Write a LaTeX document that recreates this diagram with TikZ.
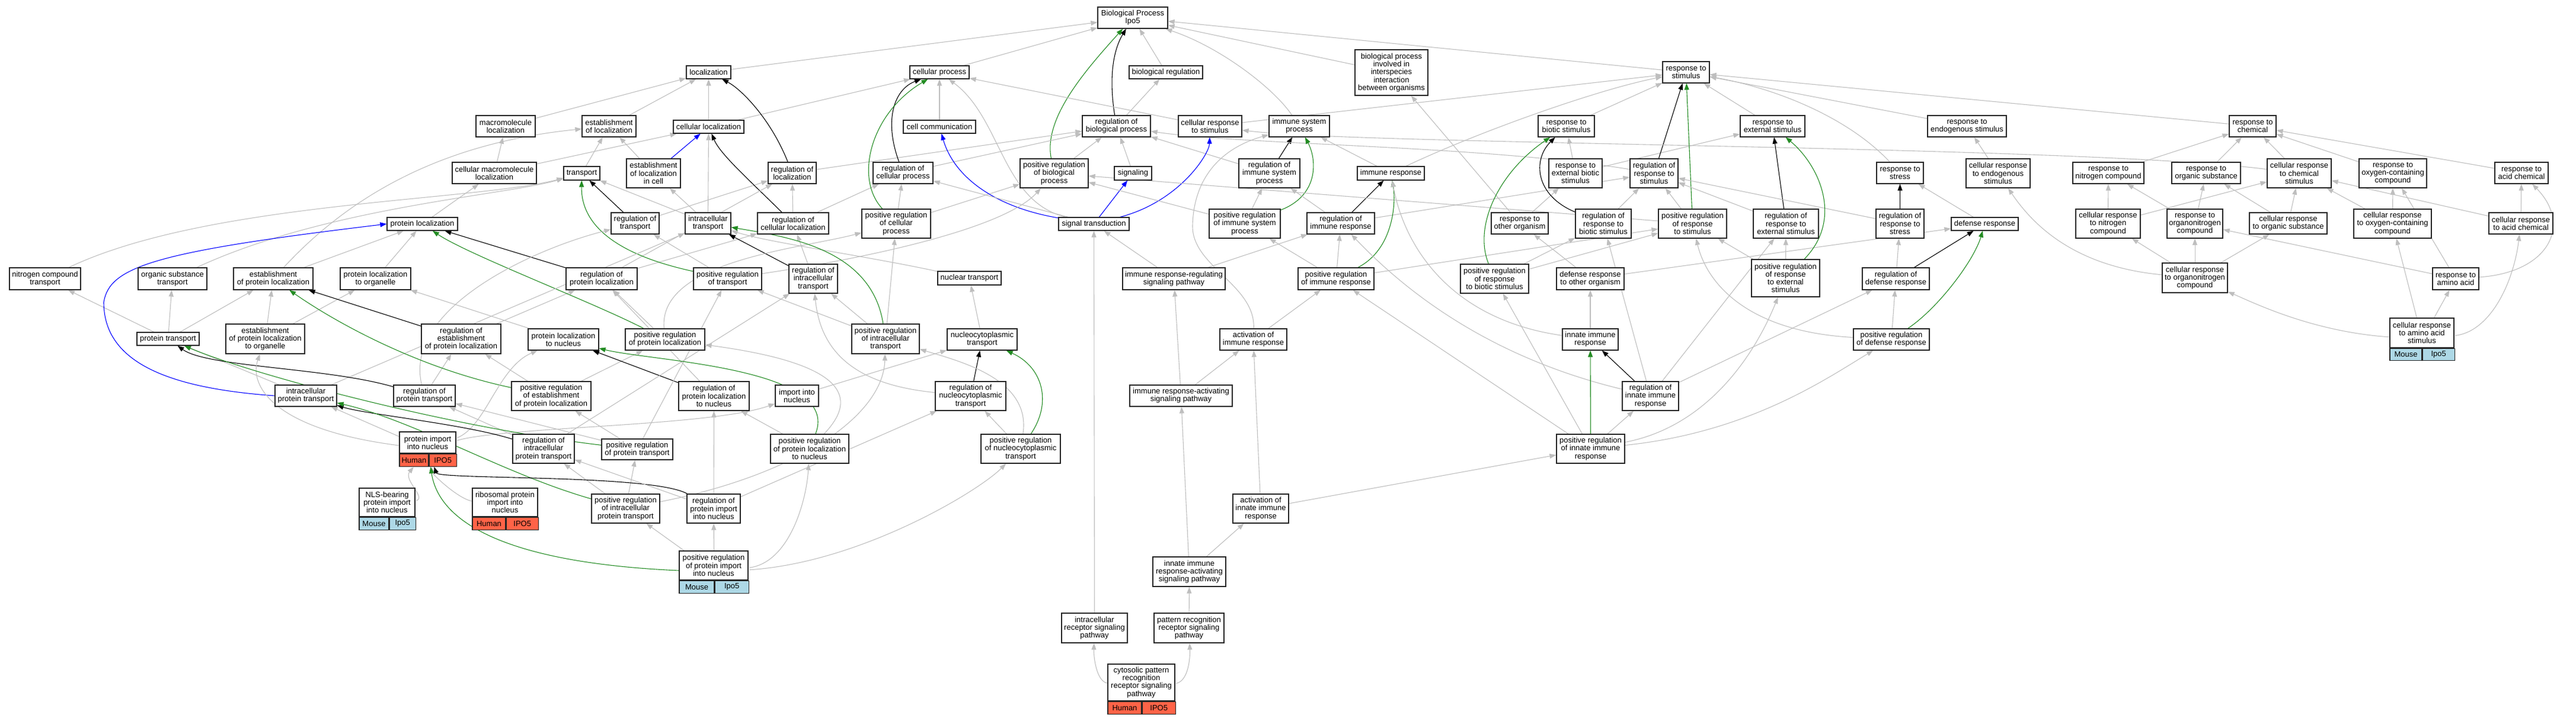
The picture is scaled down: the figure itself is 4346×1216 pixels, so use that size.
\documentclass[tikz,border=0pt]{standalone}
\usepackage{fontspec}
\setmainfont{Liberation Sans}
\usetikzlibrary{arrows.meta}
\usetikzlibrary{fit}
\definecolor{edgegray}{HTML}{BEBEBE}
\definecolor{fgreen}{HTML}{228B22}
\definecolor{tomato}{HTML}{FF6347}
\definecolor{lblue}{HTML}{ADD8E6}
\pgfdeclarelayer{edges}
\pgfsetlayers{edges,main}
\tikzset{
  term/.style={draw=black!85, line width=1.2pt, fill=white, align=center, inner xsep=3pt, inner ysep=2pt, font=\fontsize{13}{13.2}\selectfont},
  sz/.style 2 args={minimum width=#1pt, minimum height=#2pt},
  human/.style={term, fill=tomato},
  mouse/.style={term, fill=lblue},
  isa/.style={draw=edgegray, line width=1.1pt, -{Triangle[length=11pt,width=8pt]}},
  reg/.style={isa, draw=black},
  posreg/.style={isa, draw=fgreen},
  partof/.style={isa, draw=blue},
}

\begin{document}
\begin{tikzpicture}[x=1pt, y=-1pt]
    \useasboundingbox (0,0) rectangle (4346,1216);

    % rank 0 and 1
    \node[term, sz={118}{36}] (bp) at (1911,30) {Biological Process\\Ipo5};
    \node[term, sz={75}{22}] (loc) at (1195.5,122) {localization};
    \node[term, sz={100}{22}] (cp) at (1585,122) {cellular process};
    \node[term, sz={124}{22}] (breg) at (1967,122) {biological regulation};
    \node[term, sz={123}{77}] (bpint) at (2347.5,122.5) {biological process\\involved in\\interspecies\\interaction\\between organisms};
    \node[term, sz={79}{36}] (rstim) at (2844.5,122) {response to\\stimulus};

    % rank 2
    \node[term, sz={100}{36}] (macloc) at (853,213) {macromolecule\\localization};
    \node[term, sz={91}{36}] (estloc) at (1027.5,213) {establishment\\of localization};
    \node[term, sz={119}{22}] (cellloc) at (1195.5,214) {cellular localization};
    \node[term, sz={122}{22}] (cellcomm) at (1585,214) {cell communication};
    \node[term, sz={115}{36}] (regbp) at (1883.5,213) {regulation of\\biological process};
    \node[term, sz={107}{36}] (crstim) at (2041.5,213) {cellular response\\to stimulus};
    \node[term, sz={102}{36}] (imsys) at (2192,213) {immune system\\process};
    \node[term, sz={95}{36}] (rbiotic) at (2642.5,213) {response to\\biotic stimulus};
    \node[term, sz={109}{36}] (rext) at (2990.5,213) {response to\\external stimulus};
    \node[term, sz={133}{36}] (rendo) at (3318.5,213) {response to\\endogenous stimulus};
    \node[term, sz={79}{36}] (rchem) at (3800.5,213) {response to\\chemical};

    % rank 3
    \node[term, sz={142}{36}] (cmacloc) at (834,292) {cellular macromolecule\\localization};
    \node[term, sz={61}{23}] (transport) at (981.5,292.5) {transport};
    \node[term, sz={91}{49}] (estloccell) at (1102.5,292.5) {establishment\\of localization\\in cell};
    \node[term, sz={81}{36}] (regloc) at (1336.5,292) {regulation of\\localization};
    \node[term, sz={101}{36}] (regcp) at (1523.5,292) {regulation of\\cellular process};
    \node[term, sz={115}{49}] (posregbp) at (1778.5,292.5) {positive regulation\\of biological\\process};
    \node[term, sz={63}{23}] (signaling) at (1911.5,292.5) {signaling};
    \node[term, sz={103}{49}] (regimsys) at (2141.5,292.5) {regulation of\\immune system\\process};
    \node[term, sz={113}{23}] (imresp) at (2346.5,292.5) {immune response};
    \node[term, sz={90}{49}] (rextbiotic) at (2658,292.5) {response to\\external biotic\\stimulus};
    \node[term, sz={81}{49}] (regrstim) at (2790.5,292.5) {regulation of\\response to\\stimulus};
    \node[term, sz={79}{36}] (rstress) at (3205.5,292) {response to\\stress};
    \node[term, sz={108}{49}] (crendo) at (3371,292.5) {cellular response\\to endogenous\\stimulus};
    \node[term, sz={120}{36}] (rnitro) at (3557,292) {response to\\nitrogen compound};
    \node[term, sz={116}{36}] (rorgsub) at (3722,292) {response to\\organic substance};
    \node[term, sz={108}{49}] (crchem) at (3879,292.5) {cellular response\\to chemical\\stimulus};
    \node[term, sz={114}{49}] (roxy) at (4037,292.5) {response to\\oxygen-containing\\compound};
    \node[term, sz={90}{36}] (racid) at (4254,292) {response to\\acid chemical};

    % rank 4
    \node[term, sz={119}{22}] (protloc) at (712.5,378) {protein localization};
    \node[term, sz={81}{36}] (regtransport) at (1071.5,377) {regulation of\\transport};
    \node[term, sz={77}{36}] (intratrans) at (1194.5,377) {intracellular\\transport};
    \node[term, sz={120}{36}] (regcellloc) at (1338,377) {regulation of\\cellular localization};
    \node[term, sz={116}{49}] (posregcp) at (1512,377.5) {positive regulation\\of cellular\\process};
    \node[term, sz={119}{22}] (sigtrans) at (1845.5,378) {signal transduction};
    \node[term, sz={120}{49}] (posregimsys) at (2100,377.5) {positive regulation\\of immune system\\process};
    \node[term, sz={114}{36}] (regimresp) at (2262,377) {regulation of\\immune response};
    \node[term, sz={96}{36}] (rother) at (2564,377) {response to\\other organism};
    \node[term, sz={94}{49}] (regrbiotic) at (2705,377.5) {regulation of\\response to\\biotic stimulus};
    \node[term, sz={115}{49}] (posregrstim) at (2855.5,377.5) {positive regulation\\of response\\to stimulus};
    \node[term, sz={110}{49}] (regrext) at (3013,377.5) {regulation of\\response to\\external stimulus};
    \node[term, sz={81}{49}] (regrstress) at (3205.5,377.5) {regulation of\\response to\\stress};
    \node[term, sz={113}{22}] (defresp) at (3348.5,378) {defense response};
    \node[term, sz={109}{49}] (crnitro) at (3556.5,377.5) {cellular response\\to nitrogen\\compound};
    \node[term, sz={94}{49}] (rorgnitro) at (3703,377.5) {response to\\organonitrogen\\compound};
    \node[term, sz={131}{36}] (crorgsub) at (3860.5,377) {cellular response\\to organic substance};
    \node[term, sz={131}{49}] (croxy) at (4036.5,377.5) {cellular response\\to oxygen-containing\\compound};
    \node[term, sz={108}{36}] (cracid) at (4253,377) {cellular response\\to acid chemical};

    % rank 5
    \node[term, sz={120}{37}] (nitrotrans) at (76,470.5) {nitrogen compound\\transport};
    \node[term, sz={116}{37}] (orgsubtrans) at (291,470.5) {organic substance\\transport};
    \node[term, sz={134}{37}] (estprotloc) at (461,470.5) {establishment\\of protein localization};
    \node[term, sz={119}{37}] (protlocorg) at (633.5,470.5) {protein localization\\to organelle};
    \node[term, sz={120}{37}] (regprotloc) at (1015,470.5) {regulation of\\protein localization};
    \node[term, sz={115}{37}] (posregtransport) at (1227.5,470.5) {positive regulation\\of transport};
    \node[term, sz={82}{49}] (regintratrans) at (1372,470.5) {regulation of\\intracellular\\transport};
    \node[term, sz={107}{23}] (nuctrans) at (1635.5,469.5) {nuclear transport};
    \node[term, sz={173}{37}] (imrrsp) at (1980.5,470.5) {immune response-regulating\\signaling pathway};
    \node[term, sz={128}{37}] (posregimresp) at (2254,470.5) {positive regulation\\of immune response};
    \node[term, sz={115}{49}] (posregrbiotic) at (2521.5,470.5) {positive regulation\\of response\\to biotic stimulus};
    \node[term, sz={114}{37}] (defother) at (2683,470.5) {defense response\\to other organism};
    \node[term, sz={115}{63}] (posregrext) at (3012.5,469.5) {positive regulation\\of response\\to external\\stimulus};
    \node[term, sz={113}{37}] (regdef) at (3198.5,470.5) {regulation of\\defense response};
    \node[term, sz={110}{50}] (crorgnitro) at (3703,469) {cellular response\\to organonitrogen\\compound};
    \node[term, sz={78}{37}] (raa) at (4143,470.5) {response to\\amino acid};

    % rank 6
    \node[term, sz={105}{22}] (prottrans) at (283.5,572) {protein transport};
    \node[term, sz={133}{50}] (estprotlocorg) at (447.5,572) {establishment\\of protein localization\\to organelle};
    \node[term, sz={134}{50}] (regestprotloc) at (778,572) {regulation of\\establishment\\of protein localization};
    \node[term, sz={119}{36}] (protlocnuc) at (950.5,573) {protein localization\\to nucleus};
    \node[term, sz={134}{36}] (posregprotloc) at (1122,573) {positive regulation\\of protein localization};
    \node[term, sz={114}{50}] (posregintratrans) at (1494,572) {positive regulation\\of intracellular\\transport};
    \node[term, sz={118}{36}] (nctrans) at (1657,573) {nucleocytoplasmic\\transport};
    \node[term, sz={113}{36}] (actimresp) at (2114.5,573) {activation of\\immune response};
    \node[term, sz={94}{36}] (innate) at (2683,573) {innate immune\\response};
    \node[term, sz={128}{36}] (posregdef) at (3191,573) {positive regulation\\of defense response};
    \node[term, sz={108}{50}] (craa) at (4086,562) {cellular response\\to amino acid\\stimulus};
    \node[mouse, sz={54}{20}, anchor=north west] (craaA) at (craa.south west) {Mouse};
    \node[mouse, sz={54}{20}, anchor=north west] (craaB) at (craaA.north east) {Ipo5};
    \node[fit=(craa)(craaB), inner sep=0pt] (craaF) {};

    % rank 7
    \node[term, sz={104}{36}] (intraprottrans) at (516,668) {intracellular\\protein transport};
    \node[term, sz={104}{36}] (regprottrans) at (716,668) {regulation of\\protein transport};
    \node[term, sz={134}{49}] (posregestprotloc) at (930,668.5) {positive regulation\\of establishment\\of protein localization};
    \node[term, sz={119}{49}] (regprotlocnuc) at (1204.5,668.5) {regulation of\\protein localization\\to nucleus};
    \node[term, sz={73}{36}] (importnuc) at (1344.5,668) {import into\\nucleus};
    \node[term, sz={119}{49}] (regnctrans) at (1637.5,668.5) {regulation of\\nucleocytoplasmic\\transport};
    \node[term, sz={173}{36}] (imrasp) at (1992.5,668) {immune response-activating\\signaling pathway};
    \node[term, sz={95}{49}] (reginnate) at (2784.5,668.5) {regulation of\\innate immune\\response};

    % rank 8
    \node[term, sz={95}{36}] (protimport) at (721.5,747) {protein import\\into nucleus};
    \node[human, sz={49}{21}, anchor=north west] (protimportA) at (protimport.south west) {Human};
    \node[human, sz={46}{21}, anchor=north west] (protimportB) at (protimportA.north east) {IPO5};
    \node[fit=(protimport)(protimportB), inner sep=0pt] (protimportF) {};
    \node[term, sz={104}{49}] (regintraprottrans) at (917,757.5) {regulation of\\intracellular\\protein transport};
    \node[term, sz={120}{35}] (posregprottrans) at (1075,758.5) {positive regulation\\of protein transport};
    \node[term, sz={132}{49}] (posregprotlocnuc) at (1366,757.5) {positive regulation\\of protein localization\\to nucleus};
    \node[term, sz={134}{49}] (posregnctrans) at (1722,757.5) {positive regulation\\of nucleocytoplasmic\\transport};
    \node[term, sz={115}{49}] (posreginnate) at (2683.5,757.5) {positive regulation\\of innate immune\\response};

    % rank 9
    \node[term, sz={94}{48}] (nls) at (653,848) {NLS-bearing\\protein import\\into nucleus};
    \node[mouse, sz={50}{21}, anchor=north west] (nlsA) at (nls.south west) {Mouse};
    \node[mouse, sz={44}{21}, anchor=north west] (nlsB) at (nlsA.north east) {Ipo5};
    \node[fit=(nls)(nlsB), inner sep=0pt] (nlsF) {};
    \node[term, sz={110}{48}] (ribo) at (852,848) {ribosomal protein\\import into\\nucleus};
    \node[human, sz={56}{21}, anchor=north west] (riboA) at (ribo.south west) {Human};
    \node[human, sz={54}{21}, anchor=north west] (riboB) at (riboA.north east) {IPO5};
    \node[fit=(ribo)(riboB), inner sep=0pt] (riboF) {};
    \node[term, sz={115}{49}] (posregintraprottrans) at (1055.5,858.5) {positive regulation\\of intracellular\\protein transport};
    \node[term, sz={90}{49}] (regprotimport) at (1204,858.5) {regulation of\\protein import\\into nucleus};
    \node[term, sz={94}{49}] (actinnate) at (2127,858.5) {activation of\\innate immune\\response};

    % rank 10 to 12
    \node[term, sz={116}{49}] (posregprotimport) at (1204,954.5) {positive regulation\\of protein import\\into nucleus};
    \node[mouse, sz={59}{21}, anchor=north west] (posregprotimportA) at (posregprotimport.south west) {Mouse};
    \node[mouse, sz={57}{21}, anchor=north west] (posregprotimportB) at (posregprotimportA.north east) {Ipo5};
    \node[fit=(posregprotimport)(posregprotimportB), inner sep=0pt] (posregprotimportF) {};
    \node[term, sz={123}{50}] (innatersp) at (2006.5,965) {innate immune\\response-activating\\signaling pathway};
    \node[term, sz={111}{50}] (intrarecep) at (1846.5,1060) {intracellular\\receptor signaling\\pathway};
    \node[term, sz={118}{50}] (prrsp) at (2006,1060) {pattern recognition\\receptor signaling\\pathway};
    \node[term, sz={113}{62}] (cytosolic) at (1925.5,1152) {cytosolic pattern\\recognition\\receptor signaling\\pathway};
    \node[human, sz={57}{21}, anchor=north west] (cytosolicA) at (cytosolic.south west) {Human};
    \node[human, sz={56}{21}, anchor=north west] (cytosolicB) at (cytosolicA.north east) {IPO5};
    \node[fit=(cytosolic)(cytosolicB), inner sep=0pt] (cytosolicF) {};

    \begin{pgfonlayer}{edges}
    % into the root
    \draw[isa] (loc) -- (bp);
    \draw[isa] (cp) -- (bp);
    \draw[isa] (breg) -- (bp);
    \draw[isa] (bpint) -- (bp);
    \draw[isa] (rstim) -- (bp);
    \draw[isa] (imsys) .. controls (2150,150) and (2060,80) .. (bp);
    \draw[reg] (regbp) .. controls (1872,140) and (1875,90) .. (bp);
    \draw[posreg] (posregbp) .. controls (1760,200) and (1830,120) .. (bp);

    % rank 2 and 3
    \draw[isa] (macloc) -- (loc);
    \draw[isa] (estloc) -- (loc);
    \draw[isa] (cellloc) -- (loc);
    \draw[isa] (cellloc) -- (cp);
    \draw[isa] (cellcomm) -- (cp);
    \draw[isa] (regbp) -- (breg);
    \draw[isa] (crstim) -- (cp);
    \draw[isa] (crstim) -- (rstim);
    \draw[isa] (rbiotic) -- (rstim);
    \draw[isa] (rext) -- (rstim);
    \draw[isa] (rendo) -- (rstim);
    \draw[isa] (rchem) -- (rstim);
    \draw[isa] (imresp) .. controls (2500,220) and (2700,150) .. (rstim);
    \draw[isa] (rstress) .. controls (3120,200) and (3000,150) .. (rstim);
    \draw[isa] (cmacloc) -- (macloc);
    \draw[isa] (cmacloc) -- (cellloc);
    \draw[isa] (transport) -- (estloc);
    \draw[isa] (estloccell) -- (estloc);
    \draw[partof] (estloccell) -- (cellloc);
    \draw[reg] (regloc) .. controls (1300,200) and (1250,150) .. (loc);
    \draw[isa] (regloc) -- (regbp);
    \draw[reg] (regcp) .. controls (1490,200) and (1510,150) .. (cp);
    \draw[isa] (regcp) -- (regbp);
    \draw[isa] (posregbp) -- (regbp);
    \draw[isa] (signaling) -- (regbp);
    \draw[reg] (regimsys) -- (imsys);
    \draw[isa] (regimsys) -- (regbp);
    \draw[isa] (imresp) -- (imsys);
    \draw[isa] (rextbiotic) -- (rbiotic);
    \draw[isa] (rextbiotic) -- (rext);
    \draw[reg] (regrstim) -- (rstim);
    \draw[isa] (regrstim) .. controls (2500,245) and (2100,245) .. (regbp);
    \draw[isa] (crendo) -- (rendo);
    \draw[isa] (crchem) .. controls (3500,245) and (2300,245) .. (crstim);
    \draw[isa] (rnitro) -- (rchem);
    \draw[isa] (rorgsub) -- (rchem);
    \draw[isa] (crchem) -- (rchem);
    \draw[isa] (roxy) -- (rchem);
    \draw[isa] (racid) -- (rchem);

    % rank 4
    \draw[isa] (protloc) -- (cmacloc);
    \draw[reg] (regtransport) -- (transport);
    \draw[isa] (regtransport) -- (regloc);
    \draw[isa] (intratrans) -- (transport);
    \draw[isa] (intratrans) -- (estloccell);
    \draw[isa] (intratrans) -- (cellloc);
    \draw[reg] (regcellloc) .. controls (1260,300) and (1215,260) .. (cellloc);
    \draw[isa] (regcellloc) -- (regloc);
    \draw[isa] (regcellloc) -- (regcp);
    \draw[posreg] (posregcp) .. controls (1440,300) and (1470,190) .. (cp);
    \draw[isa] (posregcp) -- (regcp);
    \draw[isa] (posregcp) -- (posregbp);
    \draw[partof] (sigtrans) -- (signaling);
    \draw[partof] (sigtrans) .. controls (1680,350) and (1610,300) .. (cellcomm);
    \draw[partof] (sigtrans) .. controls (1990,340) and (2040,260) .. (crstim);
    \draw[isa] (sigtrans) .. controls (1690,340) and (1690,200) .. (cp);
    \draw[isa] (sigtrans) -- (regcp);
    \draw[isa] (posregimsys) -- (regimsys);
    \draw[posreg] (posregimsys) .. controls (2225,330) and (2222,270) .. (imsys);
    \draw[isa] (posregimsys) -- (posregbp);
    \draw[reg] (regimresp) -- (imresp);
    \draw[isa] (regimresp) -- (regimsys);
    \draw[isa] (regimresp) -- (regrstim);
    \draw[isa] (rother) -- (bpint);
    \draw[isa] (rother) -- (rextbiotic);
    \draw[reg] (regrbiotic) .. controls (2590,330) and (2585,270) .. (rbiotic);
    \draw[isa] (regrbiotic) -- (regrstim);
    \draw[posreg] (posregrstim) -- (rstim);
    \draw[isa] (posregrstim) -- (regrstim);
    \draw[isa] (posregrstim) -- (posregbp);
    \draw[reg] (regrext) -- (rext);
    \draw[isa] (regrext) -- (regrstim);
    \draw[reg] (regrstress) -- (rstress);
    \draw[isa] (regrstress) -- (regrstim);
    \draw[isa] (defresp) -- (rstress);
    \draw[isa] (crnitro) -- (rnitro);
    \draw[isa] (crnitro) -- (crchem);
    \draw[isa] (rorgnitro) -- (rnitro);
    \draw[isa] (rorgnitro) -- (rorgsub);
    \draw[isa] (crorgsub) -- (rorgsub);
    \draw[isa] (crorgsub) -- (crchem);
    \draw[isa] (croxy) -- (roxy);
    \draw[isa] (croxy) -- (crchem);
    \draw[isa] (cracid) -- (racid);
    \draw[isa] (cracid) -- (crchem);

    % rank 5
    \draw[isa] (nitrotrans) .. controls (350,340) and (800,340) .. (transport);
    \draw[isa] (orgsubtrans) .. controls (550,350) and (850,330) .. (transport);
    \draw[isa] (estprotloc) .. controls (600,320) and (760,240) .. (estloc);
    \draw[isa] (estprotloc) -- (protloc);
    \draw[isa] (protlocorg) -- (protloc);
    \draw[reg] (regprotloc) -- (protloc);
    \draw[isa] (regprotloc) -- (regloc);
    \draw[isa] (regprotloc) -- (regcellloc);
    \draw[posreg] (posregtransport) .. controls (1040,430) and (980,380) .. (transport);
    \draw[isa] (posregtransport) -- (regtransport);
    \draw[isa] (posregtransport) .. controls (1500,430) and (1700,380) .. (posregbp);
    \draw[reg] (regintratrans) -- (intratrans);
    \draw[isa] (regintratrans) -- (regcellloc);
    \draw[isa] (nuctrans) .. controls (1450,430) and (1300,410) .. (intratrans);
    \draw[isa] (imrrsp) -- (sigtrans);
    \draw[isa] (imrrsp) -- (regimresp);
    \draw[posreg] (posregimresp) .. controls (2352,420) and (2355,340) .. (imresp);
    \draw[isa] (posregimresp) -- (regimresp);
    \draw[isa] (posregimresp) -- (posregimsys);
    \draw[isa] (posregimresp) -- (posregrstim);
    \draw[posreg] (posregrbiotic) .. controls (2485,380) and (2530,290) .. (rbiotic);
    \draw[isa] (posregrbiotic) -- (regrbiotic);
    \draw[isa] (posregrbiotic) -- (posregrstim);
    \draw[isa] (defother) -- (rother);
    \draw[isa] (defother) -- (defresp);
    \draw[posreg] (posregrext) .. controls (3110,370) and (3070,280) .. (rext);
    \draw[isa] (posregrext) -- (regrext);
    \draw[isa] (posregrext) -- (posregrstim);
    \draw[reg] (regdef) -- (defresp);
    \draw[isa] (regdef) -- (regrstress);
    \draw[isa] (crorgnitro) .. controls (3500,450) and (3430,380) .. (crendo);
    \draw[isa] (crorgnitro) -- (crnitro);
    \draw[isa] (crorgnitro) -- (rorgnitro);
    \draw[isa] (crorgnitro) -- (crorgsub);
    \draw[isa] (raa) -- (rorgnitro);
    \draw[isa] (raa) -- (roxy);
    \draw[isa] (raa) .. controls (4300,460) and (4340,380) .. (racid);

    % rank 6
    \draw[isa] (prottrans) -- (nitrotrans);
    \draw[isa] (prottrans) -- (orgsubtrans);
    \draw[isa] (prottrans) -- (estprotloc);
    \draw[isa] (estprotlocorg) -- (estprotloc);
    \draw[isa] (estprotlocorg) -- (protlocorg);
    \draw[reg] (regestprotloc) -- (estprotloc);
    \draw[isa] (regestprotloc) -- (regprotloc);
    \draw[isa] (protlocnuc) -- (protlocorg);
    \draw[posreg] (posregprotloc) .. controls (1000,510) and (790,430) .. (protloc);
    \draw[isa] (posregprotloc) -- (regprotloc);
    \draw[isa] (posregprotloc) .. controls (1110,440) and (1350,420) .. (posregcp);
    \draw[posreg] (posregintratrans) .. controls (1470,420) and (1330,400) .. (intratrans);
    \draw[isa] (posregintratrans) -- (regintratrans);
    \draw[isa] (posregintratrans) -- (posregcp);
    \draw[isa] (posregintratrans) -- (posregtransport);
    \draw[isa] (nctrans) -- (nuctrans);
    \draw[isa] (actimresp) -- (posregimresp);
    \draw[isa] (actimresp) .. controls (2118,480) and (2010,450) .. (2012,380) .. controls (2014,300) and (2060,250) .. (imsys);
    \draw[isa] (innate) .. controls (2450,540) and (2370,420) .. (imresp);
    \draw[isa] (innate) -- (defother);
    \draw[posreg] (posregdef) .. controls (3270,520) and (3330,440) .. (defresp);
    \draw[isa] (posregdef) -- (regdef);
    \draw[isa] (posregdef) .. controls (2950,560) and (2880,480) .. (posregrstim);
    \draw[isa] (craaF) -- (raa);
    \draw[isa] (craaF) .. controls (3900,560) and (3800,510) .. (crorgnitro);
    \draw[isa] (craaF) -- (croxy);
    \draw[isa] (craaF) .. controls (4200,560) and (4240,480) .. (cracid);

    % rank 7
    \draw[isa] (intraprottrans) -- (prottrans);
    \draw[isa] (intraprottrans) -- (intratrans);
    \draw[partof] (intraprottrans.west) .. controls (280,655) and (175,610) .. (175,510) .. controls (185,450) and (260,425) .. (protloc.west);
    \draw[reg] (regprottrans) .. controls (550,620) and (350,620) .. (prottrans);
    \draw[isa] (regprottrans) -- (regestprotloc);
    \draw[isa] (regprottrans) .. controls (680,520) and (900,420) .. (regtransport);
    \draw[posreg] (posregestprotloc) .. controls (700,620) and (560,540) .. (estprotloc);
    \draw[isa] (posregestprotloc) -- (regestprotloc);
    \draw[isa] (posregestprotloc) -- (posregprotloc);
    \draw[reg] (regprotlocnuc) -- (protlocnuc);
    \draw[isa] (regprotlocnuc) -- (regprotloc);
    \draw[isa] (importnuc) -- (nctrans);
    \draw[reg] (regnctrans) -- (nctrans);
    \draw[isa] (regnctrans) .. controls (1450,650) and (1385,600) .. (regintratrans);
    \draw[isa] (imrasp) -- (imrrsp);
    \draw[isa] (imrasp) -- (actimresp);
    \draw[reg] (reginnate) -- (innate);
    \draw[isa] (reginnate) .. controls (2500,600) and (2360,480) .. (regimresp);
    \draw[isa] (reginnate) -- (regrbiotic);
    \draw[isa] (reginnate) -- (regrext);
    \draw[isa] (reginnate) -- (regdef);

    % rank 8
    \draw[isa] (protimportF) -- (intraprottrans);
    \draw[isa] (protimportF) .. controls (460,725) and (420,650) .. (estprotlocorg);
    \draw[isa] (protimportF) .. controls (820,720) and (840,620) .. (protlocnuc);
    \draw[isa] (protimportF) .. controls (850,720) and (1200,720) .. (importnuc);
    \draw[reg] (regintraprottrans) .. controls (780,715) and (620,700) .. (intraprottrans);
    \draw[isa] (regintraprottrans) -- (regprottrans);
    \draw[isa] (regintraprottrans) -- (regintratrans);
    \draw[posreg] (posregprottrans) .. controls (750,720) and (420,630) .. (prottrans);
    \draw[isa] (posregprottrans) -- (regprottrans);
    \draw[isa] (posregprottrans) -- (posregestprotloc);
    \draw[isa] (posregprottrans) -- (posregtransport);
    \draw[posreg] (posregprotlocnuc) .. controls (1420,620) and (1100,610) .. (protlocnuc);
    \draw[isa] (posregprotlocnuc) -- (regprotlocnuc);
    \draw[isa] (posregprotlocnuc) .. controls (1460,660) and (1400,610) .. (posregprotloc);
    \draw[posreg] (posregnctrans) .. controls (1775,680) and (1760,620) .. (nctrans);
    \draw[isa] (posregnctrans) -- (regnctrans);
    \draw[isa] (posregnctrans) .. controls (1740,640) and (1620,610) .. (posregintratrans);
    \draw[posreg] (posreginnate) -- (innate);
    \draw[isa] (posreginnate) -- (reginnate);
    \draw[isa] (posreginnate) -- (posregimresp);
    \draw[isa] (posreginnate) -- (posregrbiotic);
    \draw[isa] (posreginnate) .. controls (2950,730) and (3080,640) .. (posregdef);
    \draw[isa] (posreginnate) .. controls (2880,720) and (2960,600) .. (posregrext);

    % rank 9
    \draw[isa] (nlsF) .. controls (720,840) and (680,810) .. (protimportF);
    \draw[isa] (riboF) .. controls (770,840) and (730,800) .. (protimportF);
    \draw[posreg] (posregintraprottrans) .. controls (850,800) and (700,710) .. (intraprottrans);
    \draw[isa] (posregintraprottrans) -- (regintraprottrans);
    \draw[isa] (posregintraprottrans) -- (posregprottrans);
    \draw[isa] (posregintraprottrans) .. controls (1350,800) and (1490,700) .. (posregintratrans);
    \draw[reg] (regprotimport) .. controls (1100,800) and (740,810) .. (protimportF);
    \draw[isa] (regprotimport) -- (regprotlocnuc);
    \draw[isa] (regprotimport) -- (regnctrans);
    \draw[isa] (regprotimport) -- (regintraprottrans);
    \draw[isa] (actinnate) -- (actimresp);
    \draw[isa] (actinnate) -- (posreginnate);

    % rank 10 to 12
    \draw[posreg] (posregprotimportF) .. controls (850,950) and (740,880) .. (protimportF);
    \draw[isa] (posregprotimportF) -- (regprotimport);
    \draw[isa] (posregprotimportF) -- (posregintraprottrans);
    \draw[isa] (posregprotimportF) .. controls (1330,950) and (1360,850) .. (posregprotlocnuc);
    \draw[isa] (posregprotimportF) .. controls (1450,950) and (1650,830) .. (posregnctrans);
    \draw[isa] (innatersp) -- (imrasp);
    \draw[isa] (innatersp) -- (actinnate);
    \draw[isa] (intrarecep) -- (sigtrans);
    \draw[isa] (prrsp) -- (innatersp);
    \draw[isa] (cytosolicF) .. controls (1850,1150) and (1845,1110) .. (intrarecep);
    \draw[isa] (cytosolicF) .. controls (2005,1150) and (2008,1110) .. (prrsp);
    \end{pgfonlayer}
\end{tikzpicture}
\end{document}
